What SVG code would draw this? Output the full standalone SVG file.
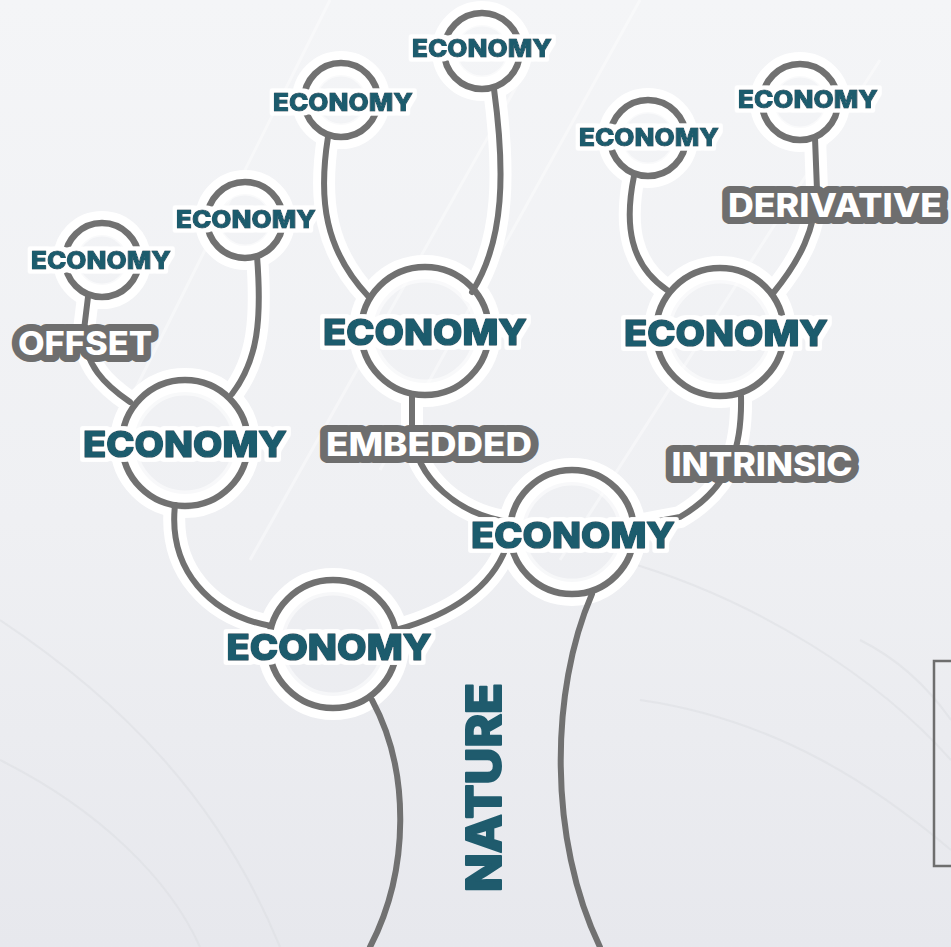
<svg xmlns="http://www.w3.org/2000/svg" width="951" height="947" viewBox="0 0 951 947">
  <defs>
    <linearGradient id="bg" x1="0" y1="0" x2="0" y2="1">
      <stop offset="0" stop-color="#f4f5f7"/>
      <stop offset="0.55" stop-color="#eff0f3"/>
      <stop offset="1" stop-color="#e7e8ed"/>
    </linearGradient>
    <!-- white outline around teal labels -->
    <filter id="whiteEdge" x="-10%" y="-40%" width="120%" height="180%">
      <feMorphology in="SourceAlpha" operator="dilate" radius="3.5" result="grow"/>
      <feGaussianBlur in="grow" stdDeviation="1" result="soft"/>
      <feComponentTransfer in="soft" result="mask"><feFuncA type="linear" slope="3" intercept="-0.8"/></feComponentTransfer>
      <feFlood flood-color="#ffffff"/>
      <feComposite in2="mask" operator="in" result="edge"/>
      <feMerge><feMergeNode in="edge"/><feMergeNode in="SourceGraphic"/></feMerge>
    </filter>
    <!-- slightly heavier white fill for the tag letters -->
    <filter id="boldFill" x="-10%" y="-50%" width="120%" height="200%">
      <feMorphology in="SourceGraphic" operator="dilate" radius="0.6"/>
    </filter>
    <style>
      .halo { fill: none; stroke: #ffffff; stroke-linecap: round; }
      .line { fill: none; stroke: #717171; stroke-width: 6; stroke-linecap: round; }
      .ring { fill: none; stroke: #717171; stroke-width: 6.5; }
      .inner { fill: none; stroke: #ffffff; stroke-opacity: 0.55; stroke-width: 7; }
      .eco { font-family: Inter, "Open Sans", "Liberation Sans", sans-serif; font-weight: 800; fill: #1f5b6d; stroke: #1f5b6d; stroke-linejoin: round; text-anchor: middle; filter: url(#whiteEdge); }
      .lg { font-size: 36px; stroke-width: 1.6; }
      .sm { font-size: 24px; stroke-width: 1.1; }
      .tag { font-family: Inter, "Open Sans", "Liberation Sans", sans-serif; font-weight: 800; font-size: 32px; fill: #ffffff; stroke: #6e6e6e; stroke-width: 14; stroke-linejoin: round; paint-order: stroke; text-anchor: middle; }
      .streak { fill: none; stroke: #ffffff; stroke-opacity: 0.4; stroke-width: 3; }
      .arc { fill: none; stroke: #dcdde2; stroke-opacity: 0.5; stroke-width: 2; }
    </style>
  </defs>

  <!-- backdrop -->
  <rect width="951" height="947" fill="url(#bg)"/>
  <g id="backdrop-lines">
    <path class="streak" d="M120 420 L330 0"/>
    <path class="streak" d="M380 470 L640 0"/>
    <path class="streak" d="M560 560 L880 60"/>
    <path class="streak" d="M250 560 L520 80"/>
    <path class="arc" d="M0 620 C120 700 220 800 280 947"/>
    <path class="arc" d="M0 760 C100 810 170 880 200 947"/>
    <path class="arc" d="M620 560 C760 600 880 680 951 760"/>
    <path class="arc" d="M640 700 C780 720 880 790 951 850"/>
    <path class="arc" d="M860 640 C900 660 930 690 951 720"/>
  </g>

  <!-- white halos behind branches and rings -->
  <g id="halos">
    <g class="halo" stroke-width="22">
      <path d="M88 297 L84 330 C84 365 105 385 130 402"/>
      <path d="M257 256 C262 320 258 360 232 394"/>
      <path d="M328 137 C318 200 325 250 368 296"/>
      <path d="M494 89 C505 170 505 240 472 292"/>
      <path d="M634 176 C624 225 630 265 667 290"/>
      <path d="M815 138 L817 190 C815 230 800 260 774 292"/>
      <path d="M412 396 L412 430 C415 480 460 515 510 522"/>
      <path d="M741 396 C742 440 735 485 680 517 L632 526"/>
      <path d="M175 505 C168 570 210 615 271 626"/>
      <path d="M396 630 C450 615 490 590 506 548"/>
    </g>
    <g class="halo" stroke-width="24">
      <circle cx="102" cy="260" r="37"/>
      <circle cx="245" cy="220" r="38"/>
      <circle cx="341" cy="100" r="37"/>
      <circle cx="482" cy="51" r="38"/>
      <circle cx="648" cy="138" r="38"/>
      <circle cx="800" cy="102" r="38"/>
      <circle cx="185" cy="443" r="63"/>
      <circle cx="425" cy="331" r="64"/>
      <circle cx="720" cy="332" r="64"/>
      <circle cx="572" cy="532" r="62"/>
      <circle cx="333" cy="644" r="64"/>
    </g>
  </g>

  <!-- connectors -->
  <g id="connectors">
    <path class="line" d="M88 297 L84 330 C84 365 105 385 130 402"/>
    <path class="line" d="M257 256 C262 320 258 360 232 394"/>
    <path class="line" d="M328 137 C318 200 325 250 368 296"/>
    <path class="line" d="M494 89 C505 170 505 240 472 292"/>
    <path class="line" d="M634 176 C624 225 630 265 667 290"/>
    <path class="line" d="M815 138 L817 190 C815 230 800 260 774 292"/>
    <path class="line" d="M412 396 L412 430 C415 480 460 515 510 522"/>
    <path class="line" d="M741 396 C742 440 735 485 680 517 L632 526"/>
    <path class="line" d="M175 505 C168 570 210 615 271 626"/>
    <path class="line" d="M396 630 C450 615 490 590 506 548"/>
    <path class="line" stroke-width="7" d="M372 700 C410 770 410 870 370 947"/>
    <path class="line" stroke-width="7" d="M592 594 C550 690 548 840 600 947"/>
  </g>

  <!-- small leaves -->
  <g id="leaf-1">
    <circle class="inner" cx="102" cy="260" r="27"/>
    <circle class="ring" cx="102" cy="260" r="37"/>
    <text class="eco sm" x="101" y="269" textLength="140" lengthAdjust="spacingAndGlyphs">ECONOMY</text>
  </g>
  <g id="leaf-2">
    <circle class="inner" cx="245" cy="220" r="28"/>
    <circle class="ring" cx="245" cy="220" r="38"/>
    <text class="eco sm" x="246" y="228" textLength="140" lengthAdjust="spacingAndGlyphs">ECONOMY</text>
  </g>
  <g id="leaf-3">
    <circle class="inner" cx="341" cy="100" r="27"/>
    <circle class="ring" cx="341" cy="100" r="37"/>
    <text class="eco sm" x="343" y="111" textLength="140" lengthAdjust="spacingAndGlyphs">ECONOMY</text>
  </g>
  <g id="leaf-4">
    <circle class="inner" cx="482" cy="51" r="28"/>
    <circle class="ring" cx="482" cy="51" r="38"/>
    <text class="eco sm" x="482" y="57" textLength="140" lengthAdjust="spacingAndGlyphs">ECONOMY</text>
  </g>
  <g id="leaf-5">
    <circle class="inner" cx="648" cy="138" r="28"/>
    <circle class="ring" cx="648" cy="138" r="38"/>
    <text class="eco sm" x="649" y="146" textLength="140" lengthAdjust="spacingAndGlyphs">ECONOMY</text>
  </g>
  <g id="leaf-6">
    <circle class="inner" cx="800" cy="102" r="28"/>
    <circle class="ring" cx="800" cy="102" r="38"/>
    <text class="eco sm" x="808" y="108" textLength="140" lengthAdjust="spacingAndGlyphs">ECONOMY</text>
  </g>

  <!-- main branches -->
  <g id="branch-left">
    <circle class="inner" cx="185" cy="443" r="51"/>
    <circle class="ring" cx="185" cy="443" r="63"/>
    <text class="eco lg" x="185" y="457" textLength="204" lengthAdjust="spacingAndGlyphs">ECONOMY</text>
  </g>
  <g id="branch-center">
    <circle class="inner" cx="425" cy="331" r="52"/>
    <circle class="ring" cx="425" cy="331" r="64"/>
    <text class="eco lg" x="425" y="345" textLength="204" lengthAdjust="spacingAndGlyphs">ECONOMY</text>
  </g>
  <g id="branch-right">
    <circle class="inner" cx="720" cy="332" r="52"/>
    <circle class="ring" cx="720" cy="332" r="64"/>
    <text class="eco lg" x="726" y="346" textLength="204" lengthAdjust="spacingAndGlyphs">ECONOMY</text>
  </g>
  <g id="fork-right">
    <circle class="inner" cx="572" cy="532" r="50"/>
    <circle class="ring" cx="572" cy="532" r="62"/>
    <text class="eco lg" x="573" y="548" textLength="204" lengthAdjust="spacingAndGlyphs">ECONOMY</text>
  </g>
  <g id="fork-left">
    <circle class="inner" cx="333" cy="644" r="52"/>
    <circle class="ring" cx="333" cy="644" r="64"/>
    <text class="eco lg" x="329" y="660" textLength="205" lengthAdjust="spacingAndGlyphs">ECONOMY</text>
  </g>

  <!-- branch tags -->
  <g id="tag-offset">
    <text class="tag" x="85" y="355" textLength="134" lengthAdjust="spacingAndGlyphs">OFFSET</text>
  </g>
  <g id="tag-embedded">
    <text class="tag" x="429" y="456" font-size="30" textLength="206" lengthAdjust="spacingAndGlyphs">EMBEDDED</text>
  </g>
  <g id="tag-intrinsic">
    <text class="tag" x="762" y="476" textLength="181" lengthAdjust="spacingAndGlyphs">INTRINSIC</text>
  </g>
  <g id="tag-derivative">
    <text class="tag" x="835" y="217" textLength="214" lengthAdjust="spacingAndGlyphs">DERIVATIVE</text>
  </g>

  <!-- trunk label -->
  <g id="nature">
    <text font-family="Inter, 'Open Sans', 'Liberation Sans', sans-serif" font-weight="800" font-size="48" fill="#1f5b6d" stroke="#1f5b6d" stroke-width="2" stroke-linejoin="round" text-anchor="middle" transform="translate(501 787.5) rotate(-90)" x="0" y="0" textLength="209" lengthAdjust="spacingAndGlyphs">NATURE</text>
  </g>

  <!-- frame at right edge -->
  <g id="frame">
    <rect x="934" y="661" width="40" height="205" fill="none" stroke="#6e6e6e" stroke-width="2.5"/>
  </g>
</svg>
